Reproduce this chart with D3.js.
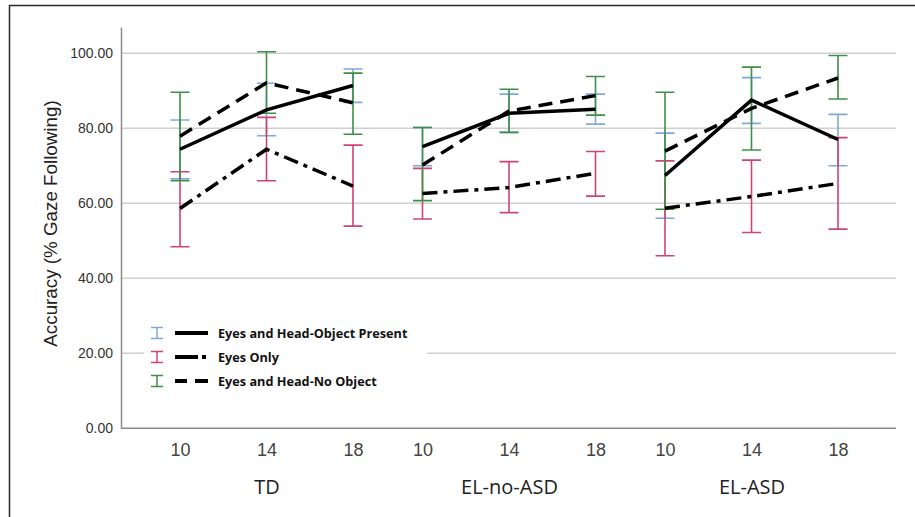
<!DOCTYPE html>
<html>
<head>
<meta charset="utf-8">
<script src="https://cdn.jsdelivr.net/npm/d3@7"></script>
<style>
  html, body { margin: 0; padding: 0; background: #fff; }
  svg { display: block; }
</style>
</head>
<body>
<svg id="chart" width="915" height="517"></svg>
<script>
// ---- data ----
const groups = ["TD", "EL-no-ASD", "EL-ASD"];
const ages = ["10", "14", "18"];
const yTicks = [0, 20, 40, 60, 80, 100];
const seriesNames = ["Eyes and Head-Object Present", "Eyes Only", "Eyes and Head-No Object"];

// values in order: TD 10,14,18 | EL-no-ASD 10,14,18 | EL-ASD 10,14,18
const objPresentMean = [74.4, 84.9, 91.4, 75.1, 84.0, 85.1, 67.4, 87.5, 77.0];
const objPresentLow  = [66.5, 78.0, 86.9, 70.0, 78.9, 81.1, 56.0, 81.3, 70.0];
const objPresentHigh = [82.2, 92.0, 95.8, 80.2, 89.1, 89.1, 78.7, 93.5, 83.7];

const eyesOnlyMean = [58.6, 74.4, 64.6, 62.6, 64.2, 68.0, 58.7, 61.8, 65.3];
const eyesOnlyLow  = [48.4, 66.0, 53.9, 55.8, 57.5, 61.9, 46.0, 52.2, 53.1];
const eyesOnlyHigh = [68.4, 82.9, 75.5, 69.3, 71.1, 73.8, 71.3, 71.5, 77.5];

const noObjectMean = [77.9, 92.1, 86.8, 70.2, 84.6, 88.7, 73.9, 85.3, 93.4];
const noObjectLow  = [66.0, 84.0, 78.4, 60.7, 78.9, 83.5, 58.4, 74.2, 87.8];
const noObjectHigh = [89.6, 100.4, 94.7, 80.2, 90.4, 93.8, 89.6, 96.3, 99.4];

// ---- build series ----
function build(mean, low, high) {
  const pts = [];
  groups.forEach((g, gi) => ages.forEach((a, ai) => {
    const i = gi * 3 + ai;
    pts.push({ group: g, age: a, mean: mean[i], low: low[i], high: high[i] });
  }));
  return pts;
}
const series = [
  { name: seriesNames[0], color: "#7fa9db", dash: null, pts: build(objPresentMean, objPresentLow, objPresentHigh) },
  { name: seriesNames[1], color: "#d0456f", dash: "15 6 4 6", pts: build(eyesOnlyMean, eyesOnlyLow, eyesOnlyHigh) },
  { name: seriesNames[2], color: "#3f8f48", dash: "14 8", pts: build(noObjectMean, noObjectLow, noObjectHigh) }
];

// ---- layout ----
const svg = d3.select("#chart");
const plotLeft = 121, plotRight = 896, plotTop = 27, plotBottom = 428.3;

const y = d3.scaleLinear().domain([0, 107]).range([plotBottom, plotTop]);
const xGroup = d3.scalePoint().domain(groups).range([267, 752]);
const xAge = d3.scalePoint().domain(ages).range([-87, 86]);
const xPos = d => xGroup(d.group) + xAge(d.age);

// outer frame (top + left)
svg.append("line").attr("x1", 9).attr("x2", 915).attr("y1", 5.5).attr("y2", 5.5)
  .attr("stroke", "#2a2a2a").attr("stroke-width", 1.5);
svg.append("line").attr("x1", 9.5).attr("x2", 9.5).attr("y1", 5).attr("y2", 517)
  .attr("stroke", "#2a2a2a").attr("stroke-width", 1.5);

// gridlines
svg.append("g").selectAll("line").data(yTicks.filter(t => t > 0)).join("line")
  .attr("x1", plotLeft).attr("x2", plotRight)
  .attr("y1", d => y(d)).attr("y2", d => y(d))
  .attr("stroke", "#cfcfcf").attr("stroke-width", 1.5);

// y axis
const yAxis = d3.axisLeft(y).tickValues(yTicks).tickFormat(d3.format(".2f")).tickSize(0).tickPadding(8);
const yg = svg.append("g").attr("transform", `translate(${plotLeft},0)`).call(yAxis);
yg.select(".domain").attr("stroke", "#8a8a8a").attr("stroke-width", 1.5);
yg.selectAll("text").attr("font-family", "Liberation Sans, Arial, sans-serif")
  .attr("font-size", 14).attr("fill", "#333");

// x axis (line + age ticks)
svg.append("line").attr("x1", plotLeft).attr("x2", plotRight)
  .attr("y1", plotBottom).attr("y2", plotBottom)
  .attr("stroke", "#8a8a8a").attr("stroke-width", 1.5);
groups.forEach(g => {
  const axis = d3.axisBottom(d3.scalePoint().domain(ages).range([xGroup(g) + xAge.range()[0], xGroup(g) + xAge.range()[1]]))
    .tickSize(0).tickPadding(15);
  const ag = svg.append("g").attr("transform", `translate(0,${plotBottom})`).call(axis);
  ag.select(".domain").remove();
  ag.selectAll("text").attr("font-family", "Liberation Sans, Arial, sans-serif")
    .attr("font-size", 18).attr("fill", "#444");
});
svg.append("g").selectAll("text").data(groups).join("text")
  .attr("x", d => xGroup(d)).attr("y", 494)
  .attr("text-anchor", "middle")
  .attr("font-family", "Open Sans, sans-serif").attr("font-size", 20).attr("fill", "#222")
  .text(d => d);

// y title
svg.append("text")
  .attr("transform", `translate(57,223.5) rotate(-90)`)
  .attr("text-anchor", "middle")
  .attr("font-family", "Liberation Sans, Arial, sans-serif").attr("font-size", 18.8).attr("fill", "#222")
  .text("Accuracy (% Gaze Following)");

// error bars: blue, red, green order
const cap = 9.5;
series.forEach(s => {
  const g = svg.append("g").attr("stroke", s.color).attr("stroke-width", 1.6).attr("fill", "none");
  g.selectAll("path").data(s.pts).join("path")
    .attr("d", d => {
      const x = xPos(d), y1 = y(d.high), y0 = y(d.low);
      return `M${x - cap},${y1}H${x + cap}M${x},${y1}V${y0}M${x - cap},${y0}H${x + cap}`;
    });
});

// mean lines, separate per group
const line = d3.line().x(d => xPos(d)).y(d => y(d.mean));
series.forEach(s => {
  groups.forEach(gname => {
    svg.append("path")
      .datum(s.pts.filter(p => p.group === gname))
      .attr("d", line)
      .attr("fill", "none").attr("stroke", "#000").attr("stroke-width", 3.5)
      .attr("stroke-dasharray", s.dash);
  });
});

// legend
const lg = svg.append("g");
lg.append("rect").attr("x", 144).attr("y", 318).attr("width", 283).attr("height", 78).attr("fill", "#fff");
const rowY = [333, 357, 381];
const legDash = [null, "23 4 4 100", "12 8 13 100"];
series.forEach((s, i) => {
  const yy = rowY[i];
  lg.append("path")
    .attr("d", `M151,${yy - 5.5}H163M157,${yy - 5.5}V${yy + 5.5}M151,${yy + 5.5}H163`)
    .attr("stroke", s.color).attr("stroke-width", 1.5).attr("fill", "none");
  lg.append("line").attr("x1", 175).attr("x2", 208).attr("y1", yy).attr("y2", yy)
    .attr("stroke", "#000").attr("stroke-width", 4)
    .attr("stroke-dasharray", legDash[i]);
  lg.append("text").attr("x", 218).attr("y", yy + 4.5)
    .attr("font-family", "Open Sans, sans-serif").attr("font-weight", "bold")
    .attr("font-size", 12.7).attr("fill", "#111")
    .text(s.name);
});
</script>
</body>
</html>
